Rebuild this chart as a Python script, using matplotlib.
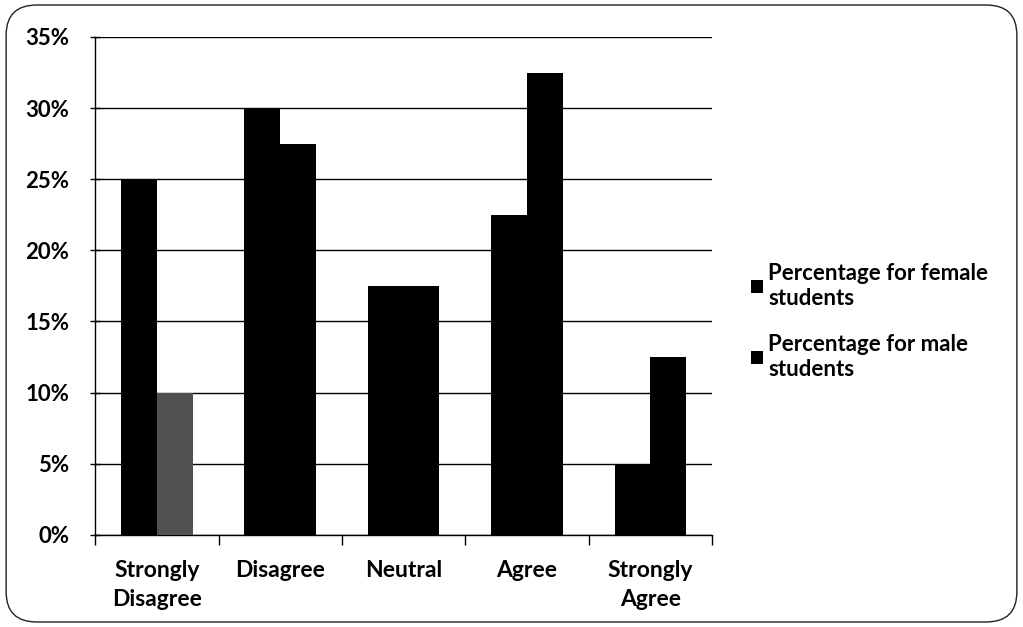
import matplotlib
matplotlib.use("Agg")
import matplotlib.pyplot as plt
import numpy as np
from matplotlib.patches import FancyBboxPatch, Patch
from matplotlib.ticker import PercentFormatter, MultipleLocator

categories = ["Strongly\nDisagree", "Disagree", "Neutral", "Agree", "Strongly\nAgree"]
female_pct = [25, 30, 17.5, 22.5, 5]
male_pct = [10, 27.5, 17.5, 32.5, 12.5]
series_labels = ["Percentage for female\nstudents", "Percentage for male\nstudents"]

plt.rcParams["font.family"] = ["Lato", "DejaVu Sans"]
plt.rcParams["font.weight"] = "bold"

fig = plt.figure(figsize=(10.23, 6.27), dpi=100)
fig.patch.set_facecolor("white")

# rounded outer frame
frame = FancyBboxPatch((0.006, 0.008), 0.988, 0.984,
                       boxstyle="round,pad=0,rounding_size=0.03",
                       transform=fig.transFigure, fill=False,
                       edgecolor="#222222", linewidth=1.0, mutation_aspect=1.6)
fig.patches.append(frame)

ax = fig.add_axes([0.093, 0.147, 0.603, 0.794])
x = np.arange(len(categories))
w = 0.29
ax.bar(x - w / 2, female_pct, width=w, color="black", zorder=3)
male_bars = ax.bar(x + w / 2, male_pct, width=w, color="black", zorder=3)
male_bars[0].set_facecolor("#505050")

ax.set_xlim(-0.5, len(categories) - 0.5)
ax.set_ylim(0, 35)
ax.yaxis.set_major_locator(MultipleLocator(5))
ax.yaxis.set_major_formatter(PercentFormatter(decimals=0))
ax.grid(axis="y", color="black", linewidth=1.0, zorder=0)
ax.set_axisbelow(True)

for s in ["top", "right"]:
    ax.spines[s].set_visible(False)
ax.spines["left"].set_linewidth(1.0)
ax.spines["bottom"].set_linewidth(1.0)

ax.set_xticks(x)
ax.set_xticklabels(categories, fontsize=16.5, fontweight="bold", linespacing=1.5)
ax.tick_params(axis="x", length=0, pad=18)
ax.set_xticks(np.arange(-0.5, len(categories)), minor=True)
ax.tick_params(axis="x", which="minor", length=7, width=1.0, direction="out")
ax.tick_params(axis="y", length=7, width=1.0, direction="inout", labelsize=16, pad=15)
for lbl in ax.get_yticklabels():
    lbl.set_fontweight("bold")

handles = [Patch(facecolor="black"), Patch(facecolor="black")]
leg = fig.legend(handles, series_labels, loc="upper left",
                 bbox_to_anchor=(0.715, 0.612), frameon=False,
                 prop={"size": 16, "weight": "bold"},
                 handlelength=0.5, handleheight=0.5, handletextpad=0.25,
                 labelspacing=1.15)

fig.savefig("out.png", dpi=100, facecolor="white")
